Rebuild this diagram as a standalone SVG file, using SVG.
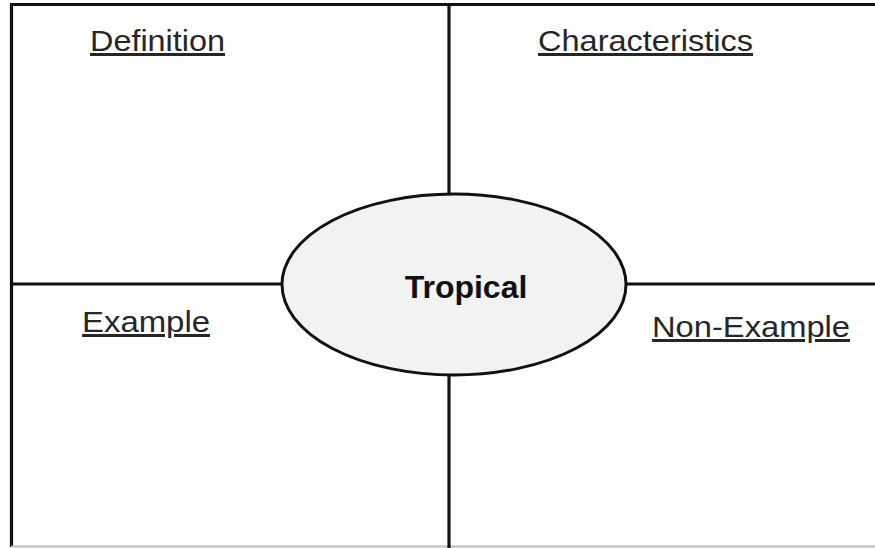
<svg xmlns="http://www.w3.org/2000/svg" width="875" height="548" viewBox="0 0 875 548">
<style>
.ln{stroke:#111;stroke-width:3.2;fill:none}
.lbl{font-family:"Liberation Sans",Arial,sans-serif;font-size:30px;fill:#262626;text-decoration:underline}
.ctr{font-family:"Liberation Sans",Arial,sans-serif;font-size:32px;font-weight:bold;fill:#111}
</style>
<rect width="875" height="548" fill="#fff"/>
<g id="frame">
<line x1="11" y1="4.5" x2="875" y2="4.5" class="ln"/>
<line x1="11.5" y1="3" x2="11.5" y2="547" class="ln"/>
<line x1="11" y1="546.5" x2="875" y2="546.5" stroke="#bbb" stroke-width="2"/>
</g>
<g id="connectors">
<line x1="449" y1="4" x2="449" y2="195" class="ln"/>
<line x1="449" y1="374" x2="449" y2="548" class="ln"/>
<line x1="11" y1="284" x2="283" y2="284" class="ln"/>
<line x1="625" y1="284" x2="875" y2="284" class="ln"/>
</g>
<g id="tropical">
<ellipse cx="454" cy="284.5" rx="172" ry="90.5" fill="#f2f2f2" stroke="#111" stroke-width="3"/>
<text x="466" y="298" text-anchor="middle" class="ctr">Tropical</text>
</g>
<g id="definition"><text x="90" y="51" class="lbl" textLength="135" lengthAdjust="spacingAndGlyphs">Definition</text></g>
<g id="characteristics"><text x="538" y="51" class="lbl" textLength="215" lengthAdjust="spacingAndGlyphs">Characteristics</text></g>
<g id="example"><text x="82" y="332" class="lbl" textLength="128" lengthAdjust="spacingAndGlyphs">Example</text></g>
<g id="non-example"><text x="652" y="337" class="lbl" textLength="198" lengthAdjust="spacingAndGlyphs">Non-Example</text></g>
</svg>
